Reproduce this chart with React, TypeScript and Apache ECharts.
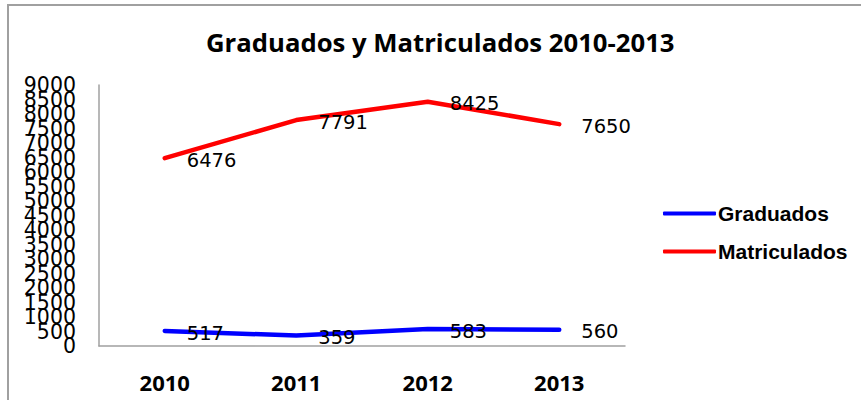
import React, { useEffect, useRef } from "react";
import * as echarts from "echarts";

const years = ["2010", "2011", "2012", "2013"];
const graduados = [517, 359, 583, 560];
const matriculados = [6476, 7791, 8425, 7650];
const seriesNames = ["Graduados", "Matriculados"];
const titleText = "Graduados y Matriculados 2010-2013";
const yTickLabels = [
  "0", "500", "1000", "1500", "2000", "2500", "3000", "3500", "4000", "4500",
  "5000", "5500", "6000", "6500", "7000", "7500", "8000", "8500", "9000",
];
const yMax = 9000;

export default function App() {
  const ref = useRef<HTMLDivElement>(null);
  useEffect(() => {
    if (!ref.current) return;
    const chart = echarts.init(ref.current, null, { renderer: "svg" });
    const labelCfg = {
      show: true,
      position: "right",
      distance: 22,
      offset: [0, 2],
      color: "#000",
      fontFamily: "DejaVu Sans",
      fontSize: 19.5,
    };
    chart.setOption({
      animation: false,
      backgroundColor: "#fff",
      title: {
        text: titleText,
        left: 206,
        top: 25,
        padding: 0,
        textStyle: {
          fontFamily: "Open Sans",
          fontWeight: "bold",
          fontSize: 25.7,
          color: "#000",
          lineHeight: 34,
        },
      },
      graphic: [
        {
          type: "rect",
          shape: { x: 8, y: 5, width: 900, height: 500 },
          style: { fill: "none", stroke: "#a0a0a0", lineWidth: 2 },
          silent: true,
        },
      ],
      legend: {
        orient: "vertical",
        left: 663,
        top: 203,
        icon: "roundRect",
        itemWidth: 53,
        itemHeight: 4,
        itemGap: 17,
        padding: 0,
        data: seriesNames,
        textStyle: {
          fontFamily: "Liberation Sans",
          fontWeight: "bold",
          fontSize: 21,
          lineHeight: 20,
          color: "#000",
          padding: [0, 0, 0, -3],
        },
      },
      grid: { left: 99, top: 85, right: 236, bottom: 54, containLabel: false },
      xAxis: {
        type: "category",
        data: years,
        boundaryGap: true,
        axisLine: { lineStyle: { color: "#a0a0a0", width: 1.5 } },
        axisTick: { show: false },
        axisLabel: {
          margin: 25,
          color: "#000",
          fontFamily: "Open Sans",
          fontWeight: "bold",
          fontSize: 22,
        },
      },
      yAxis: [
        {
          type: "value",
          min: 0,
          max: yMax,
          interval: 500,
          splitLine: { show: false },
          axisLine: { show: true, lineStyle: { color: "#a0a0a0", width: 1.5 } },
          axisTick: { show: false },
          axisLabel: { show: false },
        },
        {
          type: "category",
          position: "left",
          data: yTickLabels,
          boundaryGap: false,
          splitLine: { show: false },
          axisLine: { show: false },
          axisTick: { show: false },
          axisLabel: {
            interval: 0,
            margin: 23,
            color: "#000",
            fontFamily: "DejaVu Sans",
            fontSize: 20.5,
          },
        },
      ],
      series: [
        {
          name: seriesNames[0],
          type: "line",
          yAxisIndex: 0,
          data: graduados,
          showSymbol: true,
          symbol: "circle",
          symbolSize: 0,
          color: "#0000ff",
          lineStyle: { color: "#0000ff", width: 4.5, cap: "round" },
          label: labelCfg,
        },
        {
          name: seriesNames[1],
          type: "line",
          yAxisIndex: 0,
          data: matriculados,
          showSymbol: true,
          symbol: "circle",
          symbolSize: 0,
          color: "#ff0000",
          lineStyle: { color: "#ff0000", width: 4.5, cap: "round" },
          label: labelCfg,
        },
      ],
    });
    return () => chart.dispose();
  }, []);
  return (
    <div
      ref={ref}
      style={{ position: "fixed", left: 0, top: 0, width: 861, height: 400 }}
    />
  );
}
